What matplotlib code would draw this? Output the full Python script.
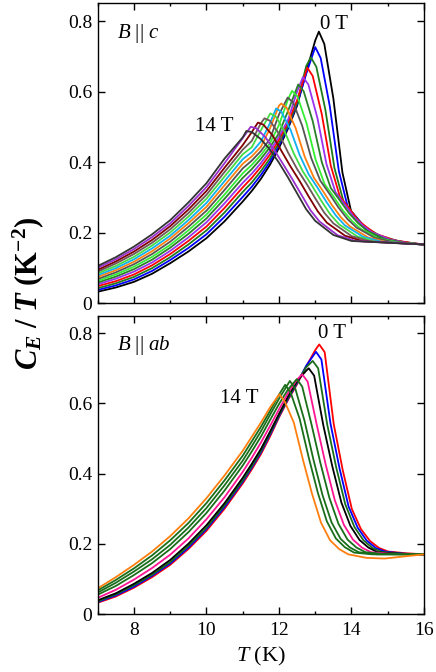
import matplotlib
matplotlib.use('Agg')
import matplotlib.pyplot as plt
from matplotlib.ticker import MultipleLocator, FixedLocator, FixedFormatter

plt.rcParams['font.family'] = ['Liberation Serif', 'DejaVu Serif']
plt.rcParams['mathtext.fontset'] = 'custom'
plt.rcParams['mathtext.rm'] = 'Liberation Serif'
plt.rcParams['mathtext.it'] = 'Liberation Serif:italic'
plt.rcParams['mathtext.bf'] = 'Liberation Serif:bold'
plt.rcParams['mathtext.bfit'] = 'Liberation Serif:italic:bold'

# temperatures (K) at which the rising side was read, shared by all curves
T_RISE = [7, 7.5, 8, 8.5, 9, 9.5, 10, 10.5, 11, 11.25, 11.5, 11.75,
          12, 12.25, 12.5, 12.75, 13]
# offsets (K) after each peak at which the falling side was read
DT_FALL = [0.15, 0.4, 0.65, 0.9, 1.15, 1.4, 1.65, 1.9, 2.4, 2.9]
T_END = 16.0

# ---- B || c, 0 T ... 14 T ----
RISE_C = [
    [.032, .044, .060, .083, .113, .146, .184, .232, .288, .318, .352, .392, .440, .495, .560, .655, .745],
    [.037, .050, .067, .091, .122, .156, .195, .245, .301, .330, .363, .401, .447, .500, .565, .650],
    [.042, .056, .074, .099, .130, .166, .206, .257, .315, .342, .374, .410, .454, .505, .568, .672],
    [.048, .062, .081, .107, .139, .176, .217, .270, .328, .355, .386, .421, .463, .513, .575],
    [.053, .069, .089, .115, .148, .186, .229, .283, .341, .367, .397, .431, .472, .520, .600],
    [.058, .075, .096, .123, .157, .196, .240, .296, .355, .380, .409, .442, .482, .545],
    [.063, .081, .103, .131, .165, .206, .251, .308, .368, .392, .420, .453, .505, .578],
    [.068, .087, .110, .139, .174, .216, .262, .321, .382, .404, .431, .465, .535],
    [.074, .093, .117, .147, .183, .226, .273, .334, .395, .416, .443, .495, .560],
    [.079, .099, .124, .155, .191, .235, .284, .346, .408, .428, .458, .510],
    [.084, .105, .131, .163, .200, .245, .296, .359, .422, .442, .490],
    [.089, .112, .139, .171, .209, .255, .307, .372, .435, .460, .510],
    [.094, .118, .146, .179, .218, .265, .318, .384, .448, .485],
    [.100, .124, .153, .187, .226, .275, .329, .397, .468],
    [.105, .130, .160, .195, .235, .285, .340, .410, .470],
]
PEAK_T_C = [13.10, 13.00, 12.88, 12.78, 12.66, 12.53, 12.36, 12.24,
            12.06, 11.92, 11.76, 11.60, 11.42, 11.22, 11.10]
PEAK_V_C = [.770, .726, .697, .668, .641, .620, .602, .583,
            .566, .552, .538, .524, .512, .500, .488]
FALL_C = [
    [.735, .580, .370, .255, .226, .198, .188, .178, .170, .166],
    [.695, .559, .375, .271, .242, .211, .197, .184, .173, .167],
    [.670, .548, .383, .288, .256, .224, .206, .191, .176, .168],
    [.644, .536, .389, .302, .269, .235, .214, .196, .178, .170],
    [.620, .525, .394, .314, .280, .245, .220, .201, .180, .170],
    [.601, .516, .400, .326, .291, .255, .227, .205, .181, .171],
    [.586, .510, .407, .337, .301, .263, .233, .210, .183, .172],
    [.569, .503, .411, .347, .310, .271, .238, .214, .185, .173],
    [.554, .496, .415, .356, .318, .278, .243, .217, .186, .173],
    [.542, .491, .420, .365, .326, .285, .248, .220, .188, .174],
    [.529, .486, .424, .373, .333, .291, .252, .223, .189, .174],
    [.517, .480, .427, .380, .340, .297, .256, .226, .190, .175],
    [.506, .476, .431, .387, .346, .302, .260, .228, .191, .175],
    [.496, .471, .434, .393, .351, .307, .263, .231, .192, .176],
    [.485, .465, .435, .398, .356, .311, .266, .233, .193, .176],
]
TAIL_C = 0.166
COLORS_C = ['#000000', '#0000ff', '#1e7b1e', '#ff0000', '#9933ee',
            '#2a7f2a', '#33ee33', '#555555', '#ff7f0e', '#10b0f0',
            '#44dd44', '#6e5858', '#800000', '#9a2fd0', '#333333']

# ---- B || ab ----
RISE_AB = [
    [.032, .050, .075, .105, .140, .185, .237, .300, .372, .412, .455, .505, .560, .610, .655, .705, .752],
    [.034, .053, .078, .109, .144, .189, .242, .305, .377, .417, .460, .510, .563, .613, .658, .707],
    [.036, .056, .082, .112, .148, .194, .246, .310, .381, .421, .464, .514, .566, .616, .661, .703],
    [.039, .059, .086, .117, .154, .200, .253, .316, .388, .428, .470, .519, .570, .620, .664, .693],
    [.046, .069, .098, .131, .169, .215, .270, .333, .405, .445, .488, .535, .583, .630, .668],
    [.055, .080, .111, .145, .185, .233, .288, .352, .423, .463, .505, .552, .598, .640],
    [.061, .089, .121, .156, .197, .246, .302, .367, .437, .478, .520, .567, .613],
    [.067, .097, .130, .167, .210, .259, .316, .381, .451, .492, .533, .578, .625],
    [.073, .105, .140, .178, .222, .272, .330, .395, .465, .505, .545, .588],
]
PEAK_T_AB = [13.11, 13.02, 12.93, 12.82, 12.64, 12.49, 12.30, 12.17, 12.01]
PEAK_V_AB = [.768, .747, .721, .700, .683, .669, .664, .653, .626]
FALL_AB = [
    [.746, .541, .409, .299, .242, .208, .188, .178, .173, .170],
    [.725, .543, .415, .306, .246, .209, .188, .178, .172, .170],
    [.700, .540, .417, .312, .248, .210, .188, .177, .172, .170],
    [.679, .539, .421, .318, .251, .211, .189, .176, .172, .170],
    [.662, .540, .425, .324, .254, .212, .189, .176, .172, .170],
    [.648, .543, .431, .331, .257, .212, .189, .176, .171, .170],
    [.642, .552, .440, .339, .261, .214, .190, .176, .170, .170],
    [.631, .556, .446, .346, .264, .215, .190, .175, .170, .170],
    [.605, .545, .440, .343, .260, .210, .185, .170, .160, .158],
]
TAIL_AB = 0.170
COLORS_AB = ['#ff0000', '#0000ff', '#1a6e1a', '#000000', '#ff1493',
             '#1a6e1a', '#1a6e1a', '#1a6e1a', '#ff7f0e']

Y_TICKS = [0, 0.2, 0.4, 0.6, 0.8]
Y_TICK_LABELS = ['0', '0.2', '0.4', '0.6', '0.8']
X_TICKS = [8, 10, 12, 14, 16]
X_TICK_LABELS = ['8', '10', '12', '14', '16']


def build_curve(rise, t_peak, v_peak, fall, tail):
    t = T_RISE[:len(rise)] + [t_peak] + [t_peak + d for d in DT_FALL]
    v = list(rise) + [v_peak] + list(fall)
    if t[-1] < T_END:
        t.append(T_END)
        v.append(tail)
    return t, v


def style_axes(ax, show_xlabels):
    ax.set_xlim(7, 16)
    ax.set_ylim(0, 0.85)
    ax.xaxis.set_major_locator(FixedLocator(X_TICKS))
    ax.xaxis.set_minor_locator(MultipleLocator(1))
    ax.yaxis.set_major_locator(FixedLocator(Y_TICKS))
    ax.yaxis.set_major_formatter(FixedFormatter(Y_TICK_LABELS))
    if show_xlabels:
        ax.xaxis.set_major_formatter(FixedFormatter(X_TICK_LABELS))
    else:
        ax.set_xticklabels([])
    ax.tick_params(which='both', direction='in', top=True, right=True,
                   labelsize=14, width=1.0)
    ax.tick_params(which='major', length=5)
    ax.tick_params(which='minor', length=2.5)
    ax.tick_params(axis='x', pad=6)
    ax.tick_params(axis='y', pad=4)
    for s in ax.spines.values():
        s.set_linewidth(1.0)


fig = plt.figure(figsize=(4.36, 6.72), dpi=100)
ax1 = fig.add_axes([0.2241, 0.5491, 0.7484, 0.4458])
ax2 = fig.add_axes([0.2241, 0.0863, 0.7484, 0.4440])

for i in range(len(RISE_C)):
    t, v = build_curve(RISE_C[i], PEAK_T_C[i], PEAK_V_C[i], FALL_C[i], TAIL_C)
    ax1.plot(t, v, color=COLORS_C[i], lw=1.3)

for i in range(len(RISE_AB)):
    t, v = build_curve(RISE_AB[i], PEAK_T_AB[i], PEAK_V_AB[i], FALL_AB[i], TAIL_AB)
    ax2.plot(t, v, color=COLORS_AB[i], lw=1.3)

style_axes(ax1, False)
style_axes(ax2, True)

ax1.text(0.058, 0.90, r'$B$ || $c$', transform=ax1.transAxes, fontsize=15,
         ha='left', va='center')
ax2.text(0.058, 0.90, r'$B$ || $ab$', transform=ax2.transAxes, fontsize=15,
         ha='left', va='center')

ax1.text(13.13, 0.79, '0 T', fontsize=15, ha='left', va='center')
ax1.text(9.68, 0.50, '14 T', fontsize=15, ha='left', va='center')
ax2.text(13.08, 0.80, '0 T', fontsize=15, ha='left', va='center')
ax2.text(10.38, 0.615, '14 T', fontsize=15, ha='left', va='center')

ax2.set_xlabel(r'$T$ (K)', fontsize=16, labelpad=4)

fig.text(0.064, 1 - 293 / 672, r'$\mathbfit{C}_{\mathbfit{E}}\ \mathbf{/}\ \mathbfit{T}\ \mathbf{(K}^{\mathbf{-2}}\mathbf{)}$',
         rotation=90, fontsize=22, ha='center', va='center')

fig.savefig('out.png', dpi=100)
